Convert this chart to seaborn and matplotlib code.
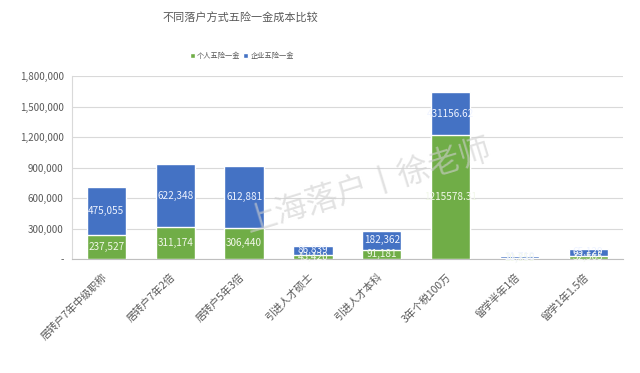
import matplotlib
matplotlib.use("Agg")
import matplotlib.pyplot as plt
import matplotlib.transforms as mtransforms
import seaborn as sns
import pandas as pd
from matplotlib.ticker import FuncFormatter
from matplotlib.patches import Patch

categories = ["居转户7年中级职称", "居转户7年2倍", "居转户5年3倍", "引进人才硕士",
              "引进人才本科", "3年个税100万", "留学半年1倍", "留学1年1.5倍"]
personal = [237527, 311174, 306440, 43420, 91181, 1215578.31, 10855, 32565]
enterprise = [475055, 622348, 612881, 86839, 182362, 431156.62, 21710, 65129]
personal_labels = ["237,527", "311,174", "306,440", "43,420", "91,181", "1215578.31", "10,855", "32,565"]
enterprise_labels = ["475,055", "622,348", "612,881", "86,839", "182,362", "431156.62", "21,710", "65,129"]
yticks = [0, 300000, 600000, 900000, 1200000, 1500000, 1800000]

GREEN = "#70AD47"
BLUE = "#4472C4"
GRAY = "#595959"

sns.set_theme(style="white")
plt.rcParams['font.family'] = ['Noto Sans CJK SC', 'DejaVu Sans']

df = pd.DataFrame({"cat": categories, "personal": personal, "enterprise": enterprise})
df["total"] = df["personal"] + df["enterprise"]

fig = plt.figure(figsize=(6.4, 3.73), dpi=100)
ax = fig.add_axes([0.1125, 0.3056, 0.8605, 0.4904])

sns.barplot(data=df, x="cat", y="total", color=BLUE, saturation=1, width=0.57, ax=ax, zorder=2)
sns.barplot(data=df, x="cat", y="personal", color=GREEN, saturation=1, width=0.57, ax=ax, zorder=3)

ax.set_ylim(0, 1800000)
ax.set_xlim(-0.5, len(categories) - 0.5)
ax.set_yticks(yticks)
ax.yaxis.set_major_formatter(FuncFormatter(lambda v, p: "-" if v == 0 else f"{int(v):,}"))
ax.grid(axis="y", color="#d9d9d9", linewidth=0.8, zorder=0)
ax.set_axisbelow(True)
ax.set_xlabel("")
ax.set_ylabel("")

for s in ["top", "right"]:
    ax.spines[s].set_visible(False)
ax.spines["left"].set_color("#d9d9d9")
ax.spines["left"].set_linewidth(0.8)
ax.spines["bottom"].set_color("#bfbfbf")
ax.spines["bottom"].set_linewidth(0.8)

ax.tick_params(axis="y", labelsize=7, colors=GRAY, length=0, pad=6)
ax.tick_params(axis="x", length=0, pad=9)
ax.set_xticks(range(len(categories)))
ax.set_xticklabels(categories, rotation=45, ha="right", rotation_mode="anchor",
                   fontsize=7.5, color=GRAY)
offset = mtransforms.ScaledTranslation(-5 / 100, 0, fig.dpi_scale_trans)
for lab in ax.get_xticklabels():
    lab.set_transform(lab.get_transform() + offset)

for i in range(len(categories)):
    p = personal[i]
    e = enterprise[i]
    ax.text(i, p / 2, personal_labels[i], ha="center", va="center", color="#f2f8ea",
            fontsize=7.2, zorder=5)
    ax.text(i, p + e / 2, enterprise_labels[i], ha="center", va="center", color="#eef3ff",
            fontsize=7.2, zorder=5)

fig.text(0.376, 0.952, "不同落户方式五险一金成本比较", ha="center", va="center",
         fontsize=8, color=GRAY)

handles = [Patch(facecolor=GREEN, label="个人五险一金"), Patch(facecolor=BLUE, label="企业五险一金")]
fig.legend(handles=handles, loc="center", bbox_to_anchor=(0.378, 0.85), ncol=2, frameon=False,
           fontsize=5.2, handlelength=0.7, handleheight=0.7, handletextpad=0.3,
           columnspacing=0.4, labelcolor=GRAY)

fig.text(0.575, 0.50, "上海落户丨徐老师", ha="center", va="center", fontsize=23,
         color="#cfcfcf", alpha=0.6, rotation=17, zorder=10)

fig.savefig("out.png", dpi=100, facecolor="white")
